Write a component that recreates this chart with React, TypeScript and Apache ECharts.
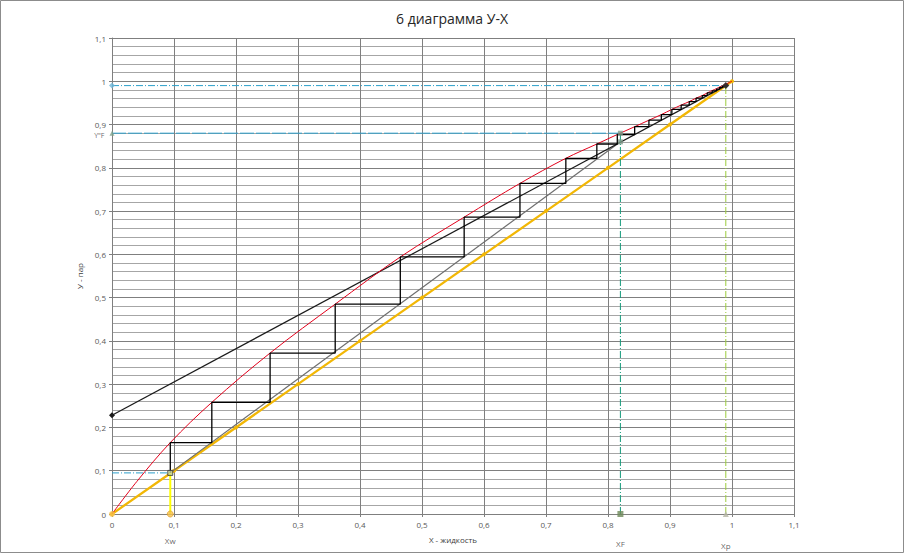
import React, { useEffect, useRef } from "react";
import * as echarts from "echarts";

const diagonal = [[0, 0], [0.1, 0.1], [0.2, 0.2], [0.3, 0.3], [0.4, 0.4], [0.5, 0.5], [0.6, 0.6], [0.7, 0.7], [0.8, 0.8], [0.9, 0.9], [1, 1]];
const equilibrium = [[0, 0], [0.04, 0.075], [0.094, 0.165], [0.161, 0.258], [0.255, 0.372], [0.36, 0.485], [0.465, 0.594], [0.568, 0.686], [0.658, 0.764], [0.732, 0.822], [0.782, 0.855], [0.815, 0.877], [0.843, 0.895], [0.866, 0.91], [0.886, 0.923], [0.903, 0.935], [0.918, 0.945], [0.931, 0.953], [0.942, 0.961], [0.952, 0.967], [0.96, 0.973], [1, 1]];
const rectifying = [[0, 0.228], [0.99, 0.99]];
const stripping = [[0.094, 0.095], [0.82, 0.86]];
const steps = [[0.094, 0.095], [0.094, 0.165], [0.161, 0.165], [0.161, 0.258], [0.255, 0.258], [0.255, 0.372], [0.36, 0.372], [0.36, 0.485], [0.465, 0.485], [0.465, 0.594], [0.568, 0.594], [0.568, 0.686], [0.658, 0.686], [0.658, 0.764], [0.732, 0.764], [0.732, 0.822], [0.782, 0.822], [0.782, 0.855], [0.815, 0.855], [0.815, 0.877], [0.843, 0.877], [0.843, 0.895], [0.866, 0.895], [0.866, 0.91], [0.886, 0.91], [0.886, 0.923], [0.903, 0.923], [0.903, 0.935], [0.918, 0.935], [0.918, 0.945], [0.931, 0.945], [0.931, 0.953], [0.942, 0.953], [0.942, 0.961], [0.952, 0.961], [0.952, 0.967], [0.96, 0.967], [0.96, 0.973], [0.968, 0.973], [0.968, 0.978], [0.975, 0.978], [0.975, 0.982], [0.98, 0.982], [0.98, 0.986], [0.985, 0.986], [0.985, 0.989], [0.989, 0.989]];
const yFLine = [[0, 0.88], [0.82, 0.88]];
const yPLine = [[0, 0.99], [0.99, 0.99]];
const yWLine = [[0, 0.095], [0.094, 0.095]];
const xWLine = [[0.094, 0], [0.094, 0.095]];
const xFLine = [[0.82, 0], [0.82, 0.88]];
const xPLine = [[0.99, 0], [0.99, 0.99]];
const pointFeed = [[0.82, 0.86], [0.82, 0.88]];

const FONT = "Open Sans";
const fmt = (v: number) => String(parseFloat(v.toFixed(2))).replace(".", ",");

export default function App() {
  const ref = useRef<HTMLDivElement>(null);
  useEffect(() => {
    document.body.style.margin = "0";
    const chart = echarts.init(ref.current!, null, { renderer: "svg" });
    const dashDot = [7, 2, 1, 2];
    const lbl = (text: string, pos: string, dist: number, extra: any = {}) => ({
      show: true,
      formatter: text,
      position: pos,
      distance: dist,
      fontSize: 8,
      color: "#404040",
      fontFamily: FONT,
      ...extra,
    });
    chart.setOption({
      animation: false,
      backgroundColor: "#ffffff",
      textStyle: { fontFamily: FONT },
      title: {
        text: "6 диаграмма У-Х",
        left: "center",
        top: 6,
        textStyle: { fontSize: 14, fontWeight: "normal", color: "#262626", fontFamily: FONT },
      },
      graphic: [
        {
          type: "rect",
          shape: { x: 0.5, y: 0.5, width: 903, height: 552 },
          style: { fill: "none", stroke: "#8c8c8c", lineWidth: 1 },
          silent: true,
        },
      ],
      grid: { left: 112, right: 110, top: 38, bottom: 39 },
      xAxis: {
        type: "value",
        min: 0,
        max: 1.1,
        interval: 0.1,
        name: "Х - жидкость",
        nameLocation: "middle",
        nameGap: 21,
        nameTextStyle: { fontSize: 8, color: "#404040", fontFamily: FONT },
        axisLine: { show: true, lineStyle: { color: "#7f7f7f" } },
        axisTick: { show: true, length: 3, lineStyle: { color: "#7f7f7f" } },
        axisLabel: { fontSize: 8, color: "#595959", margin: 6, formatter: fmt, fontFamily: FONT },
        splitLine: { show: true, lineStyle: { color: "#7f7f7f", width: 1 } },
      },
      yAxis: {
        type: "value",
        min: 0,
        max: 1.1,
        interval: 0.1,
        name: "У - пар",
        nameLocation: "middle",
        nameGap: 22,
        nameRotate: 90,
        nameTextStyle: { fontSize: 8, color: "#404040", fontFamily: FONT },
        axisLine: { show: true, lineStyle: { color: "#7f7f7f" } },
        axisTick: { show: true, length: 3, lineStyle: { color: "#7f7f7f" } },
        axisLabel: { fontSize: 8, color: "#595959", margin: 6, formatter: fmt, fontFamily: FONT },
        splitLine: { show: true, lineStyle: { color: "#7f7f7f", width: 1 } },
        minorTick: { show: false, splitNumber: 5 },
        minorSplitLine: { show: true, lineStyle: { color: "#a6a6a6", width: 1 } },
      },
      series: [
        {
          type: "line",
          data: diagonal,
          symbol: "circle",
          symbolSize: 4,
          lineStyle: { color: "#f2b705", width: 2.3 },
          itemStyle: { color: "#f2b705" },
          z: 3,
        },
        {
          type: "line",
          data: stripping,
          symbol: "none",
          lineStyle: { color: "#6e6e6e", width: 1.2 },
          z: 4,
        },
        {
          type: "line",
          data: rectifying,
          symbol: "diamond",
          symbolSize: 6,
          lineStyle: { color: "#1a1a1a", width: 1.2 },
          itemStyle: { color: "#1a1a1a" },
          z: 4,
        },
        {
          type: "line",
          data: equilibrium,
          smooth: 0.35,
          symbol: "none",
          lineStyle: { color: "#e3001b", width: 1 },
          z: 5,
        },
        {
          type: "line",
          data: steps,
          symbol: "none",
          lineStyle: { color: "#000000", width: 1.3 },
          z: 6,
        },
        {
          type: "line",
          data: yPLine,
          symbol: "none",
          lineStyle: { color: "#2b9fca", width: 1, type: dashDot },
          z: 4,
        },
        {
          type: "scatter",
          data: [yPLine[0]],
          symbol: "diamond",
          symbolSize: 6,
          itemStyle: { color: "#6fb7d8" },
          z: 7,
        },
        {
          type: "line",
          data: yFLine,
          symbol: "none",
          lineStyle: { color: "#2b9fca", width: 1, type: [14, 2] },
          z: 4,
        },
        {
          type: "scatter",
          data: [yFLine[0]],
          symbol: "triangle",
          symbolSize: 5,
          itemStyle: { color: "#7fa28c" },
          label: lbl('Y"F', "left", 5, { fontSize: 7, offset: [0, 2] }),
          z: 7,
        },
        {
          type: "line",
          data: yWLine,
          symbol: "none",
          lineStyle: { color: "#2b9fca", width: 1, type: dashDot },
          z: 4,
        },
        {
          type: "line",
          data: xWLine,
          symbol: "none",
          lineStyle: { color: "#ffff00", width: 2 },
          z: 4,
        },
        {
          type: "scatter",
          data: [xWLine[0]],
          symbol: "circle",
          symbolSize: 6,
          itemStyle: { color: "#f6c24c", borderColor: "#e0a030", borderWidth: 1 },
          label: lbl("Xw", "bottom", 19),
          z: 7,
        },
        {
          type: "scatter",
          data: [[0, 0]],
          symbol: "circle",
          symbolSize: 6,
          itemStyle: { color: "#f6c24c" },
          z: 7,
        },
        {
          type: "scatter",
          data: [xWLine[1]],
          symbol: "rect",
          symbolSize: 5,
          itemStyle: { color: "#c8d8a0", borderColor: "#333", borderWidth: 1 },
          z: 7,
        },
        {
          type: "line",
          data: xFLine,
          symbol: "none",
          lineStyle: { color: "#139a7a", width: 1, type: dashDot },
          z: 4,
        },
        {
          type: "scatter",
          data: [xFLine[0]],
          symbol: "rect",
          symbolSize: 6,
          itemStyle: { color: "#6f8a5a" },
          label: lbl("XF", "bottom", 22),
          z: 7,
        },
        {
          type: "scatter",
          data: pointFeed,
          symbol: "rect",
          symbolSize: 5,
          itemStyle: { color: "#7f9a8a" },
          z: 7,
        },
        {
          type: "line",
          data: xPLine,
          symbol: "none",
          lineStyle: { color: "#9ccc3c", width: 1, type: dashDot },
          z: 4,
        },
        {
          type: "scatter",
          data: [xPLine[0]],
          symbol: "triangle",
          symbolSize: 6,
          itemStyle: { color: "#b5b5a5" },
          label: lbl("Xp", "bottom", 24),
          z: 7,
        },
        {
          type: "scatter",
          data: [xPLine[1]],
          symbol: "diamond",
          symbolSize: 7,
          itemStyle: { color: "#333333" },
          z: 7,
        },
      ],
    });
    return () => chart.dispose();
  }, []);
  return <div ref={ref} style={{ position: "absolute", left: 0, top: 0, width: 904, height: 553 }} />;
}
